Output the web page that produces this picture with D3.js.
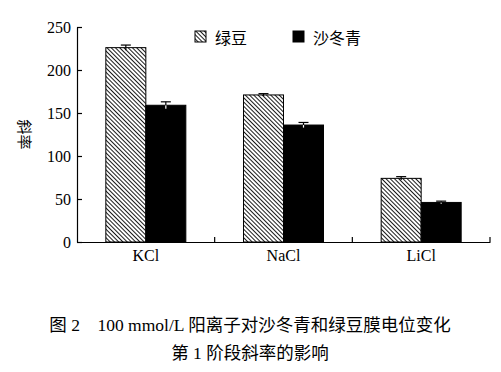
<!DOCTYPE html>
<html>
<head>
<meta charset="utf-8">
<script src="https://cdn.jsdelivr.net/npm/d3@7"></script>
<style>
  body { margin: 0; background: #fff; }
  svg { display: block; }
  .eje text { font-family: "Liberation Serif", "Noto Sans CJK SC", serif; font-size: 16px; fill: #000; }
  .eje path, .eje line { stroke: #000; stroke-width: 1.2; }
</style>
</head>
<body>
<div id="graf"></div>
<script>
// datos
categorias = ['KCl', 'NaCl', 'LiCl']
series = ['绿豆', '沙冬青']
valoresLvdou = [226, 171, 74]
erroresLvdou = [3, 1.5, 2]
valoresSdq = [159, 136, 46]
erroresSdq = [4, 3, 1.5]
ticksY = [0, 50, 100, 150, 200, 250]

ancho_total = 501
alto_total = 372
margins = { top: 27, left: 77, right: 11, bottom: 130 }
ancho = ancho_total - margins.left - margins.right
alto = alto_total - margins.top - margins.bottom

datos = categorias.map((c, i) => ({
  cat: c,
  barras: [
    { serie: series[0], v: valoresLvdou[i], e: erroresLvdou[i] },
    { serie: series[1], v: valoresSdq[i], e: erroresSdq[i] }
  ]
}))

svg = d3.select('#graf').append('svg')
  .attr('width', ancho_total)
  .attr('height', alto_total)

// patrón rayado
defs = svg.append('defs')
pat = defs.append('pattern')
  .attr('id', 'rayas')
  .attr('patternUnits', 'userSpaceOnUse')
  .attr('width', 3).attr('height', 3)
  .attr('patternTransform', 'rotate(-45)')
pat.append('rect').attr('width', 3).attr('height', 3).attr('fill', '#fff')
pat.append('line')
  .attr('x1', 0).attr('y1', 0).attr('x2', 0).attr('y2', 3)
  .attr('stroke', '#000').attr('stroke-width', 1.8)

relleno = d3.scaleOrdinal().domain(series).range(['url(#rayas)', '#000'])

g = svg.append('g')
  .attr('transform', `translate(${margins.left}, ${margins.top})`)

y = d3.scaleLinear().domain([0, 250]).range([alto, 0])
x = d3.scaleBand().domain(categorias).range([0, ancho]).paddingInner(0).paddingOuter(0)
x1 = d3.scaleBand().domain(series)
  .range([x.bandwidth() / 2 - 40, x.bandwidth() / 2 + 40])

grupos = g.selectAll('g.grupo')
  .data(datos)
  .enter().append('g')
  .attr('class', 'grupo')
  .attr('transform', d => `translate(${x(d.cat)}, 0)`)

grupos.selectAll('rect')
  .data(d => d.barras)
  .enter().append('rect')
  .attr('x', d => x1(d.serie))
  .attr('y', d => y(d.v))
  .attr('width', x1.bandwidth())
  .attr('height', d => alto - y(d.v))
  .attr('fill', d => relleno(d.serie))
  .attr('stroke', '#000')
  .attr('stroke-width', 1)

// barras de error
err = grupos.selectAll('g.err')
  .data(d => d.barras)
  .enter().append('g')
  .attr('class', 'err')
  .attr('stroke', d => d.serie == series[0] ? '#000' : '#fff')
  .attr('stroke-width', 1.2)
err.append('line')
  .attr('x1', d => x1(d.serie) + x1.bandwidth() / 2)
  .attr('x2', d => x1(d.serie) + x1.bandwidth() / 2)
  .attr('y1', d => y(d.v - d.e))
  .attr('y2', d => y(d.v))
err.append('line')
  .attr('x1', d => x1(d.serie) + x1.bandwidth() / 2)
  .attr('x2', d => x1(d.serie) + x1.bandwidth() / 2)
  .attr('y1', d => y(d.v))
  .attr('y2', d => y(d.v + d.e))
  .attr('stroke', '#000')
err.append('line')
  .attr('x1', d => x1(d.serie) + x1.bandwidth() / 2 - 5)
  .attr('x2', d => x1(d.serie) + x1.bandwidth() / 2 + 5)
  .attr('y1', d => y(d.v + d.e))
  .attr('y2', d => y(d.v + d.e))
  .attr('stroke', '#000')

// ejes
yAxisCall = d3.axisLeft(y).tickValues(ticksY).tickSizeInner(-5).tickSizeOuter(0).tickPadding(6)
g.append('g').attr('class', 'eje').call(yAxisCall)

xAxisGroup = g.append('g').attr('class', 'eje')
  .attr('transform', `translate(0, ${alto})`)
xAxisGroup.call(d3.axisBottom(x).tickSize(0).tickPadding(8))
xAxisGroup.selectAll('line.div')
  .data(categorias)
  .enter().append('line')
  .attr('class', 'div')
  .attr('x1', d => x(d) + x.bandwidth())
  .attr('x2', d => x(d) + x.bandwidth())
  .attr('y1', 0).attr('y2', -5)

// título eje y
g.append('text')
  .attr('transform', `translate(${-52}, ${alto / 2}) rotate(90)`)
  .attr('text-anchor', 'middle')
  .attr('dominant-baseline', 'central')
  .style('font-family', '"Noto Sans CJK SC"')
  .style('font-size', '15px')
  .text('斜率')

// leyenda
leyX = [195, 293]
leyenda = svg.selectAll('g.ley')
  .data(series)
  .enter().append('g')
  .attr('class', 'ley')
  .attr('transform', (d, i) => `translate(${leyX[i]}, 31)`)
leyenda.append('rect')
  .attr('width', 11).attr('height', 11)
  .attr('fill', d => relleno(d))
  .attr('stroke', '#000')
leyenda.append('text')
  .attr('x', 20).attr('y', 5.5)
  .attr('dominant-baseline', 'central')
  .style('font-family', '"Noto Sans CJK SC"')
  .style('font-size', '16px')
  .text(d => d)

// pie de figura
pie = svg.append('text')
  .attr('text-anchor', 'middle')
  .style('font-family', '"Liberation Serif", "Noto Sans CJK SC", serif')
  .style('font-size', '17.5px')
pie.append('tspan').attr('x', 250).attr('y', 331)
  .text('图 2\u3000100 mmol/L 阳离子对沙冬青和绿豆膜电位变化')
pie.append('tspan').attr('x', 250).attr('y', 359)
  .text('第 1 阶段斜率的影响')
</script>
</body>
</html>
